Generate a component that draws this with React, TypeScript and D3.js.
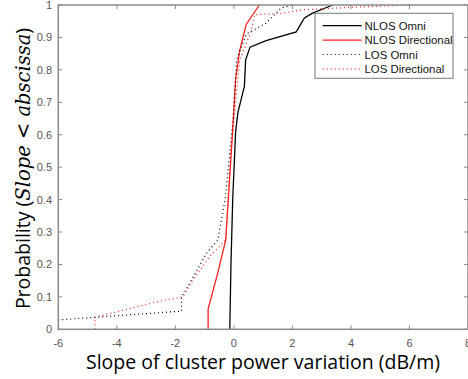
import React from "react";
import * as d3 from "d3";

const xTicks = [-6, -4, -2, 0, 2, 4, 6, 8];
const yTicks = [0, 0.1, 0.2, 0.3, 0.4, 0.5, 0.6, 0.7, 0.8, 0.9, 1];

const nlosOmniX = [-0.14, -0.1, -0.04, 0.06, 0.14, 0.25, 0.36, 0.4, 0.55, 1.1, 2.13, 2.41, 2.69, 3.38];
const nlosOmniY = [0, 0.2, 0.4, 0.61, 0.67, 0.71, 0.75, 0.83, 0.87, 0.89, 0.917, 0.96, 0.975, 1];

const nlosDirX = [-0.88, -0.88, -0.55, -0.28, -0.15, -0.04, 0.06, 0.2, 0.42, 0.87];
const nlosDirY = [0, 0.063, 0.174, 0.275, 0.46, 0.615, 0.77, 0.86, 0.94, 1];

const losOmniX = [-6, -4.75, -1.79, -1.79, -1.51, -0.94, -0.55, -0.3, -0.03, 0.09, 0.42, 1.1, 1.6, 2.0];
const losOmniY = [0.029, 0.037, 0.056, 0.1, 0.142, 0.234, 0.275, 0.4, 0.645, 0.83, 0.91, 0.944, 0.99, 1];

const losDirX = [-4.75, -4.75, -2.53, -1.74, -1.4, -0.83, -0.28, -0.1, 0.2, 0.59, 0.71, 1.7, 2.3, 4.0, 6.1];
const losDirY = [0, 0.037, 0.087, 0.1, 0.152, 0.224, 0.275, 0.55, 0.83, 0.92, 0.97, 0.975, 0.985, 0.993, 1];

const seriesNames = ["NLOS Omni", "NLOS Directional", "LOS Omni", "LOS Directional"];
const seriesColors = ["#000000", "#ff2020", "#000000", "#ff2020"];
const seriesDash = [null, null, "1,3", "1,3"];

export default function App() {
  const left = 58.3, right = 468, top = 5, bottom = 329.3;
  const x = d3.scaleLinear().domain([-6, 8]).range([left, right]);
  const y = d3.scaleLinear().domain([0, 1]).range([bottom, top]);
  const line = d3.line<[number, number]>().x(d => x(d[0])).y(d => y(d[1]));
  const data = [
    [nlosOmniX, nlosOmniY],
    [nlosDirX, nlosDirY],
    [losOmniX, losOmniY],
    [losDirX, losDirY],
  ].map(([xs, ys]) => xs.map((v, i) => [v, ys[i]] as [number, number]));
  const axisColor = "#8a8a8a";
  const tickColor = "#555";
  return (
    <svg width={468} height={379} style={{ position: "absolute", left: 0, top: 0, background: "#fff" }}>
      <defs>
        <clipPath id="plot">
          <rect x={left} y={top - 1} width={right - left} height={bottom - top + 2} />
        </clipPath>
      </defs>
      <g clipPath="url(#plot)" fill="none">
        {data.map((d, i) => (
          <path
            key={i}
            d={line(d) || ""}
            stroke={seriesColors[i]}
            strokeWidth={seriesDash[i] ? 1.2 : 1.3}
            strokeDasharray={seriesDash[i] || undefined}
          />
        ))}
      </g>
      <rect x={left} y={top} width={right - left} height={bottom - top} fill="none" stroke={axisColor} strokeWidth={1.5} />
      {xTicks.map(t => (
        <g key={"x" + t}>
          <line x1={x(t)} x2={x(t)} y1={bottom} y2={bottom - 4} stroke={axisColor} />
          <line x1={x(t)} x2={x(t)} y1={top} y2={top + 4} stroke={axisColor} />
          <text x={x(t)} y={346.5} textAnchor="middle" fontFamily="Liberation Sans, Arial, sans-serif" fontSize={11} fill={tickColor}>
            {t}
          </text>
        </g>
      ))}
      {yTicks.map(t => (
        <g key={"y" + t}>
          <line x1={left} x2={left + 4} y1={y(t)} y2={y(t)} stroke={axisColor} />
          <line x1={right} x2={right - 4} y1={y(t)} y2={y(t)} stroke={axisColor} />
          <text x={52} y={y(t) + 4} textAnchor="end" fontFamily="Liberation Sans, Arial, sans-serif" fontSize={11} fill={tickColor}>
            {t}
          </text>
        </g>
      ))}
      <g>
        <rect x={315} y={13.3} width={138} height={65} fill="#fff" stroke="#777" strokeWidth={1} />
        {seriesNames.map((n, i) => {
          const ly = 25.7 + i * 14.4;
          return (
            <g key={n}>
              <line x1={322.7} x2={361.7} y1={ly} y2={ly} stroke={seriesColors[i]} strokeWidth={1.2} strokeDasharray={seriesDash[i] || undefined} />
              <text x={364.5} y={ly + 4} fontFamily="Liberation Sans, Arial, sans-serif" fontSize={11.4} fill="#111">
                {n}
              </text>
            </g>
          );
        })}
      </g>
      <text x={263} y={368.5} textAnchor="middle" fontFamily="Open Sans, sans-serif" fontSize={19.5} fill="#000">
        Slope of cluster power variation (dB/m)
      </text>
      <text transform="translate(30,168.5) rotate(-90)" textAnchor="middle" fontFamily="Open Sans, sans-serif" fontSize={19.5} fill="#000">
        Probability (
        <tspan fontFamily="DejaVu Serif, serif" fontStyle="italic">Slope &lt; abscissa</tspan>
        )
      </text>
    </svg>
  );
}
